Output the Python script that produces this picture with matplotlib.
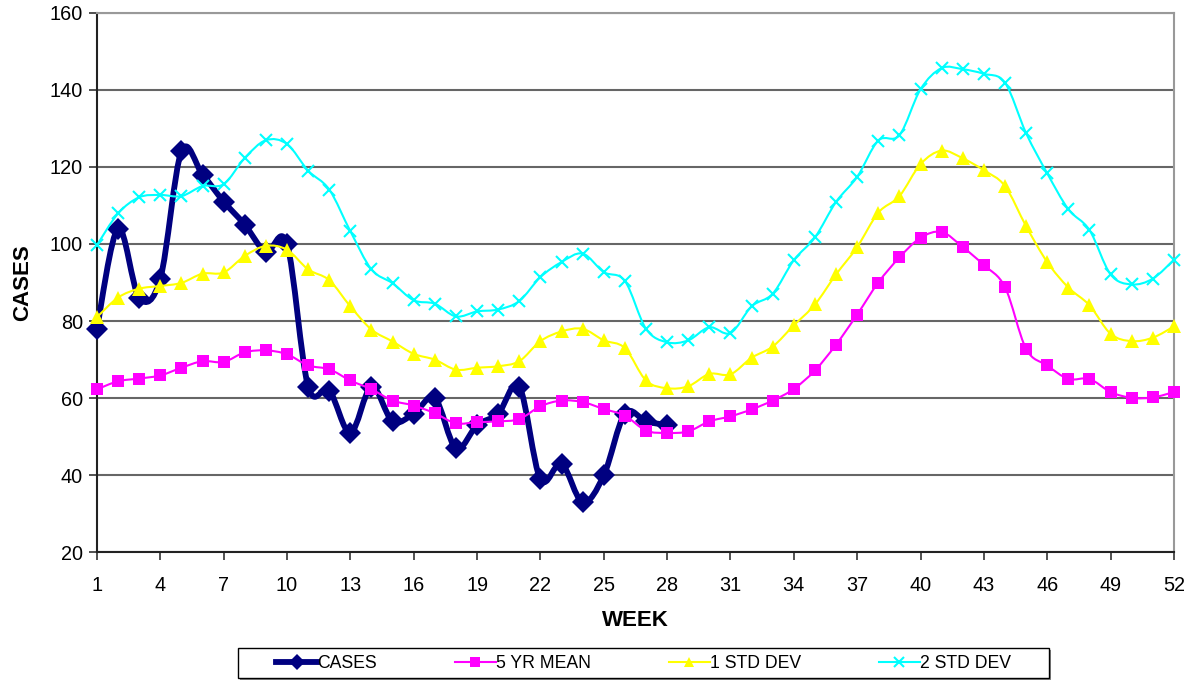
import numpy as np
import matplotlib
matplotlib.use('Agg')
import matplotlib.pyplot as plt
from matplotlib.path import Path
from matplotlib.patches import PathPatch, Rectangle
from matplotlib.lines import Line2D

plt.rcParams['font.family'] = ['Liberation Sans', 'DejaVu Sans']

##############################################################################
# Data
weeks = np.arange(1, 53)
cases_weeks = np.arange(1, 29)
cases = [78, 104, 86, 91, 124, 118, 111, 105, 98, 100, 63, 62, 51, 63, 54,
         56, 60, 47, 53, 56, 63, 39, 43, 33, 40, 56, 54, 53]
mean_5yr = [62.3, 64.4, 65.1, 65.9, 67.9, 69.6, 69.4, 71.9, 72.4, 71.4, 68.5,
            67.5, 64.6, 62.3, 59.4, 58.1, 56.1, 53.5, 53.8, 54.0, 54.6, 57.9,
            59.4, 59.0, 57.2, 55.5, 51.6, 51.0, 51.4, 54.0, 55.3, 57.1, 59.4,
            62.4, 67.2, 73.9, 81.7, 90.0, 96.5, 101.6, 103.1, 99.2, 94.5,
            88.8, 72.8, 68.5, 65.0, 65.0, 61.6, 60.1, 60.2, 61.6]
std_1 = [81.0, 86.1, 88.4, 89.1, 89.9, 92.3, 92.6, 96.9, 99.5, 98.5, 93.4,
         90.6, 83.8, 77.8, 74.7, 71.5, 70.0, 67.4, 67.9, 68.3, 69.6, 74.8,
         77.3, 78.0, 75.0, 73.0, 64.6, 62.6, 63.1, 66.3, 66.2, 70.5, 73.4,
         78.9, 84.3, 92.1, 99.2, 108.1, 112.4, 120.7, 124.2, 122.2, 119.1,
         115.0, 104.6, 95.3, 88.7, 84.1, 76.7, 74.8, 75.7, 78.6]
std_2 = [99.7, 107.9, 112.1, 112.7, 112.4, 115.0, 115.5, 122.3, 126.9, 125.9,
         119.0, 114.1, 103.3, 93.4, 89.8, 85.4, 84.5, 81.2, 82.5, 83.0, 85.2,
         91.4, 95.3, 97.5, 92.7, 90.4, 78.0, 74.5, 75.0, 78.4, 76.9, 83.8,
         87.1, 95.8, 101.7, 110.9, 117.4, 126.8, 128.2, 140.1, 145.6, 145.3,
         144.1, 141.8, 128.7, 118.3, 109.0, 103.6, 92.1, 89.5, 91.0, 95.9]


def smooth_path(x, y):
    # Excel-style smoothed line: Catmull-Rom segments as cubic Bezier curves
    p = np.column_stack([x, y]).astype(float)
    verts = [p[0]]
    codes = [Path.MOVETO]
    n = len(p)
    for i in range(n - 1):
        p0 = p[i - 1] if i > 0 else p[i]
        p3 = p[i + 2] if i + 2 < n else p[i + 1]
        c1 = p[i] + (p[i + 1] - p0) / 6.0
        c2 = p[i + 1] - (p3 - p[i]) / 6.0
        verts += [c1, c2, p[i + 1]]
        codes += [Path.CURVE4] * 3
    return Path(verts, codes)


fig = plt.figure(figsize=(11.94, 6.81), dpi=100)
ax = fig.add_axes([0.0812, 0.1887, 0.9020, 0.7929])

series = [
    (cases_weeks, cases, '#000080', 4.2, 'D', 11, 8, 'CASES'),
    (weeks, mean_5yr, '#FF00FF', 1.5, 's', 8.5, 7, '5 YR MEAN'),
    (weeks, std_1, '#FFFF00', 1.5, '^', 10, 7.5, '1 STD DEV'),
    (weeks, std_2, '#00FFFF', 1.5, 'x', 9, 7.5, '2 STD DEV'),
]

handles = []
for z, (xs, ys, col, lw, mk, ms, lms, lab) in enumerate(series):
    patch = PathPatch(smooth_path(xs, ys), facecolor='none', edgecolor=col,
                      lw=lw, zorder=3 + z * 2, capstyle='round',
                      joinstyle='round')
    ax.add_patch(patch)
    mew = 1.5 if mk == 'x' else 0
    ax.plot(xs, ys, linestyle='none', marker=mk, ms=ms, color=col,
            mec=col, mew=mew, zorder=4 + z * 2, clip_on=False)
    handles.append(Line2D([], [], color=col, lw=lw, marker=mk,
                          ms=lms, mew=mew, label=lab))

ax.set_xlim(1, 52)
ax.set_ylim(20, 160)
ax.set_xticks(np.arange(1, 53, 3))
ax.set_yticks(np.arange(20, 161, 20))
ax.tick_params(axis='both', direction='out', length=6, width=1.2,
               labelsize=14.3, color='#333333')
ax.tick_params(axis='x', pad=11)
ax.tick_params(axis='y', pad=4)
ax.yaxis.grid(True, color='#666666', lw=1.5, zorder=1)
ax.set_axisbelow(True)
for s in ['left', 'bottom']:
    ax.spines[s].set_color('#222222')
    ax.spines[s].set_linewidth(1.5)
for s in ['top', 'right']:
    ax.spines[s].set_color('#999999')
    ax.spines[s].set_linewidth(1.5)

ax.set_xlabel('WEEK', fontsize=16, fontweight='bold', labelpad=11)
ax.set_ylabel('CASES', fontsize=16, fontweight='bold', labelpad=12)

# legend box with a small shadow, as in the original
W, H = 1194.0, 681.0
fig.patches.append(Rectangle((240 / W, 1 - 680 / H), 811 / W, 30 / H,
                             transform=fig.transFigure, facecolor='#888888',
                             edgecolor='none', zorder=0))
fig.patches.append(Rectangle((238 / W, 1 - 678 / H), 811 / W, 30 / H,
                             transform=fig.transFigure, facecolor='white',
                             edgecolor='black', lw=1.0, zorder=1))
leg = fig.legend(handles=handles, loc='center', ncol=4,
                 bbox_to_anchor=(643.5 / W, 1 - 664 / H),
                 fontsize=12.7, frameon=False, handlelength=2.3,
                 handletextpad=0.0, columnspacing=4.45, borderpad=0)
leg.set_zorder(5)

fig.savefig('out.png', dpi=100)
